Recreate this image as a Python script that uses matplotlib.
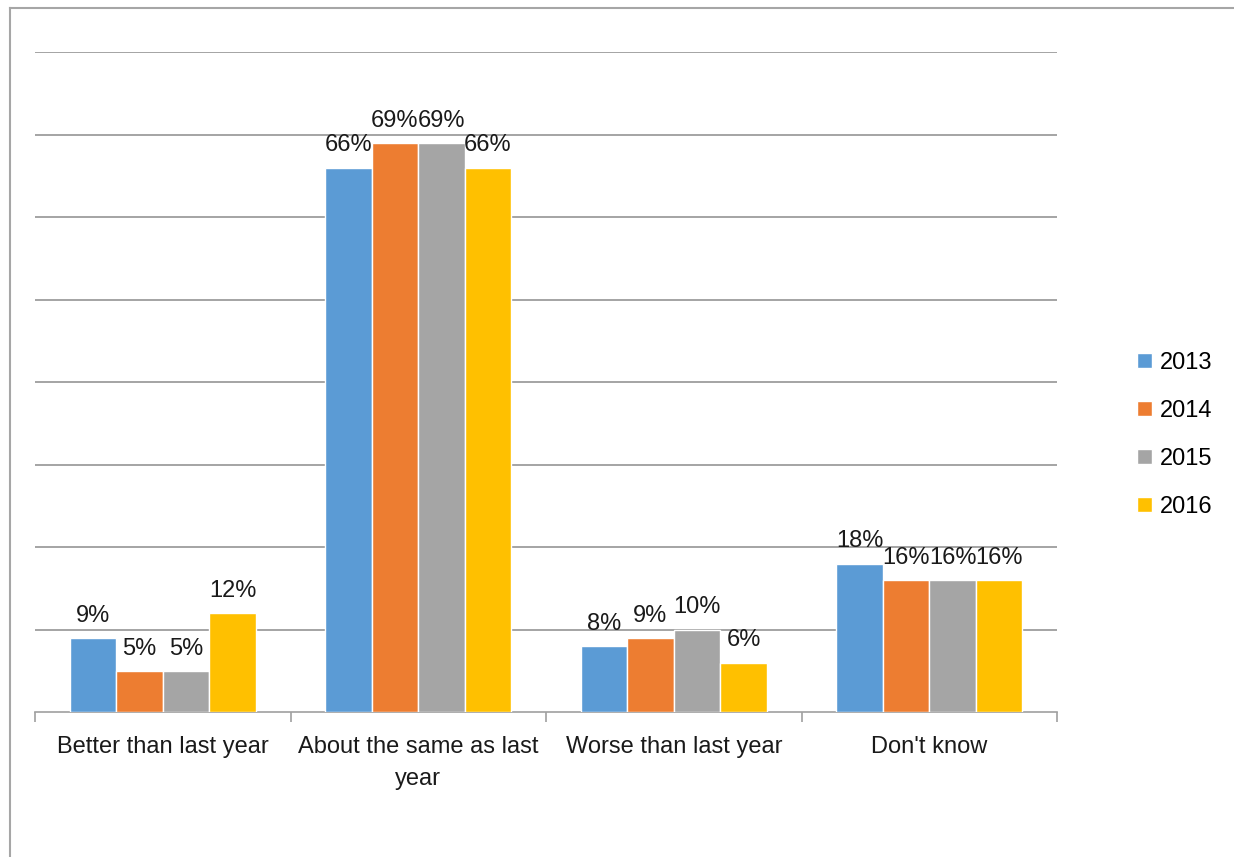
import numpy as np
import matplotlib.pyplot as plt
from matplotlib.lines import Line2D

plt.rcParams['font.family'] = ['Liberation Sans', 'DejaVu Sans']

categories = ["Better than last year", "About the same as last\nyear",
              "Worse than last year", "Don't know"]
years = ["2013", "2014", "2015", "2016"]
values = {
    "2013": [9, 66, 8, 18],
    "2014": [5, 69, 9, 16],
    "2015": [5, 69, 10, 16],
    "2016": [12, 66, 6, 16],
}
colors = ["#5B9BD5", "#ED7D31", "#A5A5A5", "#FFC000"]

W, H = 1234, 857
fs = 17
fig = plt.figure(figsize=(W / 100, H / 100), dpi=100)
ax = fig.add_axes([35 / W, 145 / H, 1022 / W, 660 / H])

x = np.arange(len(categories))
bw = 0.182
for i, yr in enumerate(years):
    offs = (i - 1.5) * bw
    bars = ax.bar(x + offs, values[yr], bw, color=colors[i], edgecolor="white",
                  linewidth=1, label=yr, zorder=3)
    ax.bar_label(bars, labels=[f"{v}%" for v in values[yr]], padding=8,
                 fontsize=fs, color="#1a1a1a")

ax.set_xlim(-0.5, 3.5)
ax.set_ylim(0, 80)
ax.set_yticks(np.arange(10, 81, 10))
ax.yaxis.grid(True, color="#8c8c8c", linewidth=1.1, zorder=0)
ax.tick_params(axis="y", length=0, labelleft=False)

ax.set_xticks(x)
ax.set_xticklabels(categories, fontsize=fs, color="#1a1a1a", linespacing=1.6)
ax.tick_params(axis="x", which="major", length=0, pad=17)
ax.set_xticks(np.arange(-0.5, 3.6, 1), minor=True)
ax.tick_params(axis="x", which="minor", length=7, width=1.2, color="#a0a0a0")

for s in ["top", "right", "left"]:
    ax.spines[s].set_visible(False)
ax.spines["bottom"].set_color("#a0a0a0")
ax.spines["bottom"].set_linewidth(1.2)

fig.legend(loc="center left", bbox_to_anchor=(1128 / W, 1 - 435 / H),
           frameon=False, fontsize=fs, handlelength=0.6, handleheight=0.6,
           handletextpad=0.35, labelspacing=1.1, borderaxespad=0)

# thin outer frame on the left and top
fig.add_artist(Line2D([10 / W, 10 / W], [0, 1 - 7.5 / H], transform=fig.transFigure,
                      color="#a6a6a6", linewidth=1.5))
fig.add_artist(Line2D([10 / W, 1], [1 - 7.5 / H, 1 - 7.5 / H], transform=fig.transFigure,
                      color="#a6a6a6", linewidth=1.5))

fig.savefig("out.png", dpi=100, facecolor="white")
